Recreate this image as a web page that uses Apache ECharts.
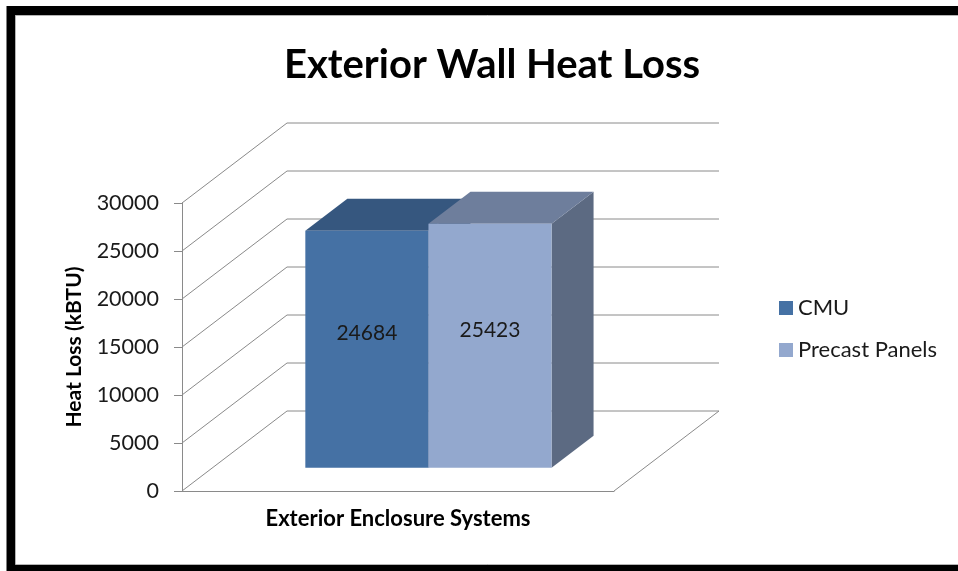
<!DOCTYPE html>
<html>
<head>
<meta charset="utf-8">
<script src="https://cdn.jsdelivr.net/npm/echarts@6/dist/echarts.min.js"></script>
<style>
  html, body { margin: 0; padding: 0; background: #fff; }
  #chart { width: 958px; height: 571px; }
</style>
</head>
<body>
<div id="chart"></div>
<script>
// data
const categories = [''];
const seriesNames = ['CMU', 'Precast Panels'];
const cmuValues = [24684];
const precastValues = [25423];
const yTicks = [0, 5000, 10000, 15000, 20000, 25000, 30000];

// fake 3d: how far the back wall sits from the front plane
const WALL_DX = 105;
const WALL_DY = 80;
const BAR_FRONT = 0.29; // depth where bar front face sits
const BAR_DEPTH = 0.4;  // bar depth as fraction of the wall depth
const BAR_FRAC = 0.285; // each bar width / category band

const FONT = 'Lato, "Open Sans", sans-serif';
const GRID_GREY = '#8a8a8a';

const chart = echarts.init(document.getElementById('chart'));

function barRenderer(slot, faces) {
  return function (params, api) {
    const cat = api.value(0);
    const val = api.value(1);
    const base = api.coord([cat, 0]);
    const top = api.coord([cat, val]);
    const band = api.size([1, 0])[0];
    const w = band * BAR_FRAC;
    const left = base[0] - w + slot * w;
    const x0 = WALL_DX * BAR_FRONT, y0 = WALL_DY * BAR_FRONT;
    const x1 = WALL_DX * (BAR_FRONT + BAR_DEPTH), y1 = WALL_DY * (BAR_FRONT + BAR_DEPTH);
    const L = left + x0, R = left + w + x0;
    const tY = top[1] - y0, bY = base[1] - y0;
    const dx = x1 - x0, dy = y1 - y0;
    return {
      type: 'group',
      children: [
        {
          type: 'polygon',
          shape: { points: [[R, tY], [R + dx, tY - dy], [R + dx, bY - dy], [R, bY]] },
          style: { fill: faces.side }
        },
        {
          type: 'polygon',
          shape: { points: [[L, tY], [R, tY], [R + dx, tY - dy], [L + dx, tY - dy]] },
          style: { fill: faces.top }
        },
        {
          type: 'rect',
          shape: { x: L, y: tY, width: w, height: bY - tY },
          style: { fill: faces.front }
        },
        {
          type: 'text',
          style: {
            text: String(val),
            x: L + w / 2,
            y: (tY + bY) / 2 - dy / 2,
            align: 'center',
            verticalAlign: 'middle',
            fill: '#1a1a1a',
            font: '21px ' + FONT
          }
        }
      ]
    };
  };
}

function wallRenderer(params, api) {
  const v = api.value(1);
  const p = api.coord([0, v]);
  const band = api.size([1, 0])[0];
  const xl = p[0] - band / 2, xr = p[0] + band / 2;
  const children = [{
    type: 'polyline',
    shape: { points: [[xl, p[1]], [xl + WALL_DX, p[1] - WALL_DY], [xr + WALL_DX, p[1] - WALL_DY]] },
    style: { stroke: GRID_GREY, lineWidth: 1, fill: null }
  }];
  if (v === 0) {
    children.push({
      type: 'line',
      shape: { x1: xr, y1: p[1], x2: xr + WALL_DX, y2: p[1] - WALL_DY },
      style: { stroke: GRID_GREY, lineWidth: 1 }
    });
  }
  return { type: 'group', children: children };
}

const option = {
  backgroundColor: '#fff',
  animation: false,
  title: {
    text: 'Exterior Wall Heat Loss',
    left: 487,
    textAlign: 'center',
    top: 40,
    textStyle: { fontFamily: FONT, fontWeight: 'bold', fontSize: 40, color: '#000' }
  },
  legend: {
    orient: 'vertical',
    left: 774,
    top: 292,
    itemWidth: 14,
    itemHeight: 14,
    itemGap: 20,
    icon: 'rect',
    data: seriesNames,
    textStyle: { fontFamily: FONT, fontSize: 22, color: '#1a1a1a' }
  },
  grid: {
    left: 182,
    top: 203,
    width: 432,
    height: 288
  },
  xAxis: {
    type: 'category',
    data: categories,
    name: 'Exterior Enclosure Systems',
    nameLocation: 'middle',
    nameGap: 17,
    nameTextStyle: { fontFamily: FONT, fontWeight: 'bold', fontSize: 22, color: '#000' },
    axisLine: { show: true, lineStyle: { color: GRID_GREY, width: 1 } },
    axisTick: { show: false },
    axisLabel: { show: false },
    splitLine: { show: false }
  },
  yAxis: {
    type: 'value',
    min: 0,
    max: 30000,
    interval: 5000,
    name: 'Heat Loss (kBTU)',
    nameLocation: 'middle',
    nameRotate: 90,
    nameGap: 97,
    nameTextStyle: { fontFamily: FONT, fontWeight: 'bold', fontSize: 21, color: '#000' },
    axisLine: { show: true, lineStyle: { color: GRID_GREY, width: 1 } },
    axisTick: { show: true, inside: false, length: 8, lineStyle: { color: GRID_GREY } },
    axisLabel: { margin: 23, fontFamily: FONT, fontSize: 21.5, color: '#1a1a1a', formatter: v => String(v) },
    splitLine: { show: false }
  },
  graphic: [
    {
      type: 'rect',
      shape: { x: 11, y: 10.5, width: 1200, height: 558.5 },
      style: { fill: 'none', stroke: '#000', lineWidth: 9 }
    },
    {
      type: 'rect',
      shape: { x: 15.5, y: 15.5, width: 1200, height: 549 },
      style: { fill: 'none', stroke: '#b4b4b4', lineWidth: 1 }
    }
  ],
  series: [
    {
      name: 'walls',
      type: 'custom',
      z: 1,
      silent: true,
      renderItem: wallRenderer,
      data: yTicks.map(v => [0, v])
    },
    {
      name: seriesNames[0],
      type: 'custom',
      z: 2,
      itemStyle: { color: '#4571a4' },
      renderItem: barRenderer(0, { front: '#4571a4', top: '#36577f', side: '#2f4a6e' }),
      data: cmuValues.map((v, i) => [i, v])
    },
    {
      name: seriesNames[1],
      type: 'custom',
      z: 3,
      itemStyle: { color: '#93a8ce' },
      renderItem: barRenderer(1, { front: '#93a8ce', top: '#6e7e9c', side: '#5c6a82' }),
      data: precastValues.map((v, i) => [i, v])
    }
  ]
};

chart.setOption(option);
</script>
</body>
</html>
